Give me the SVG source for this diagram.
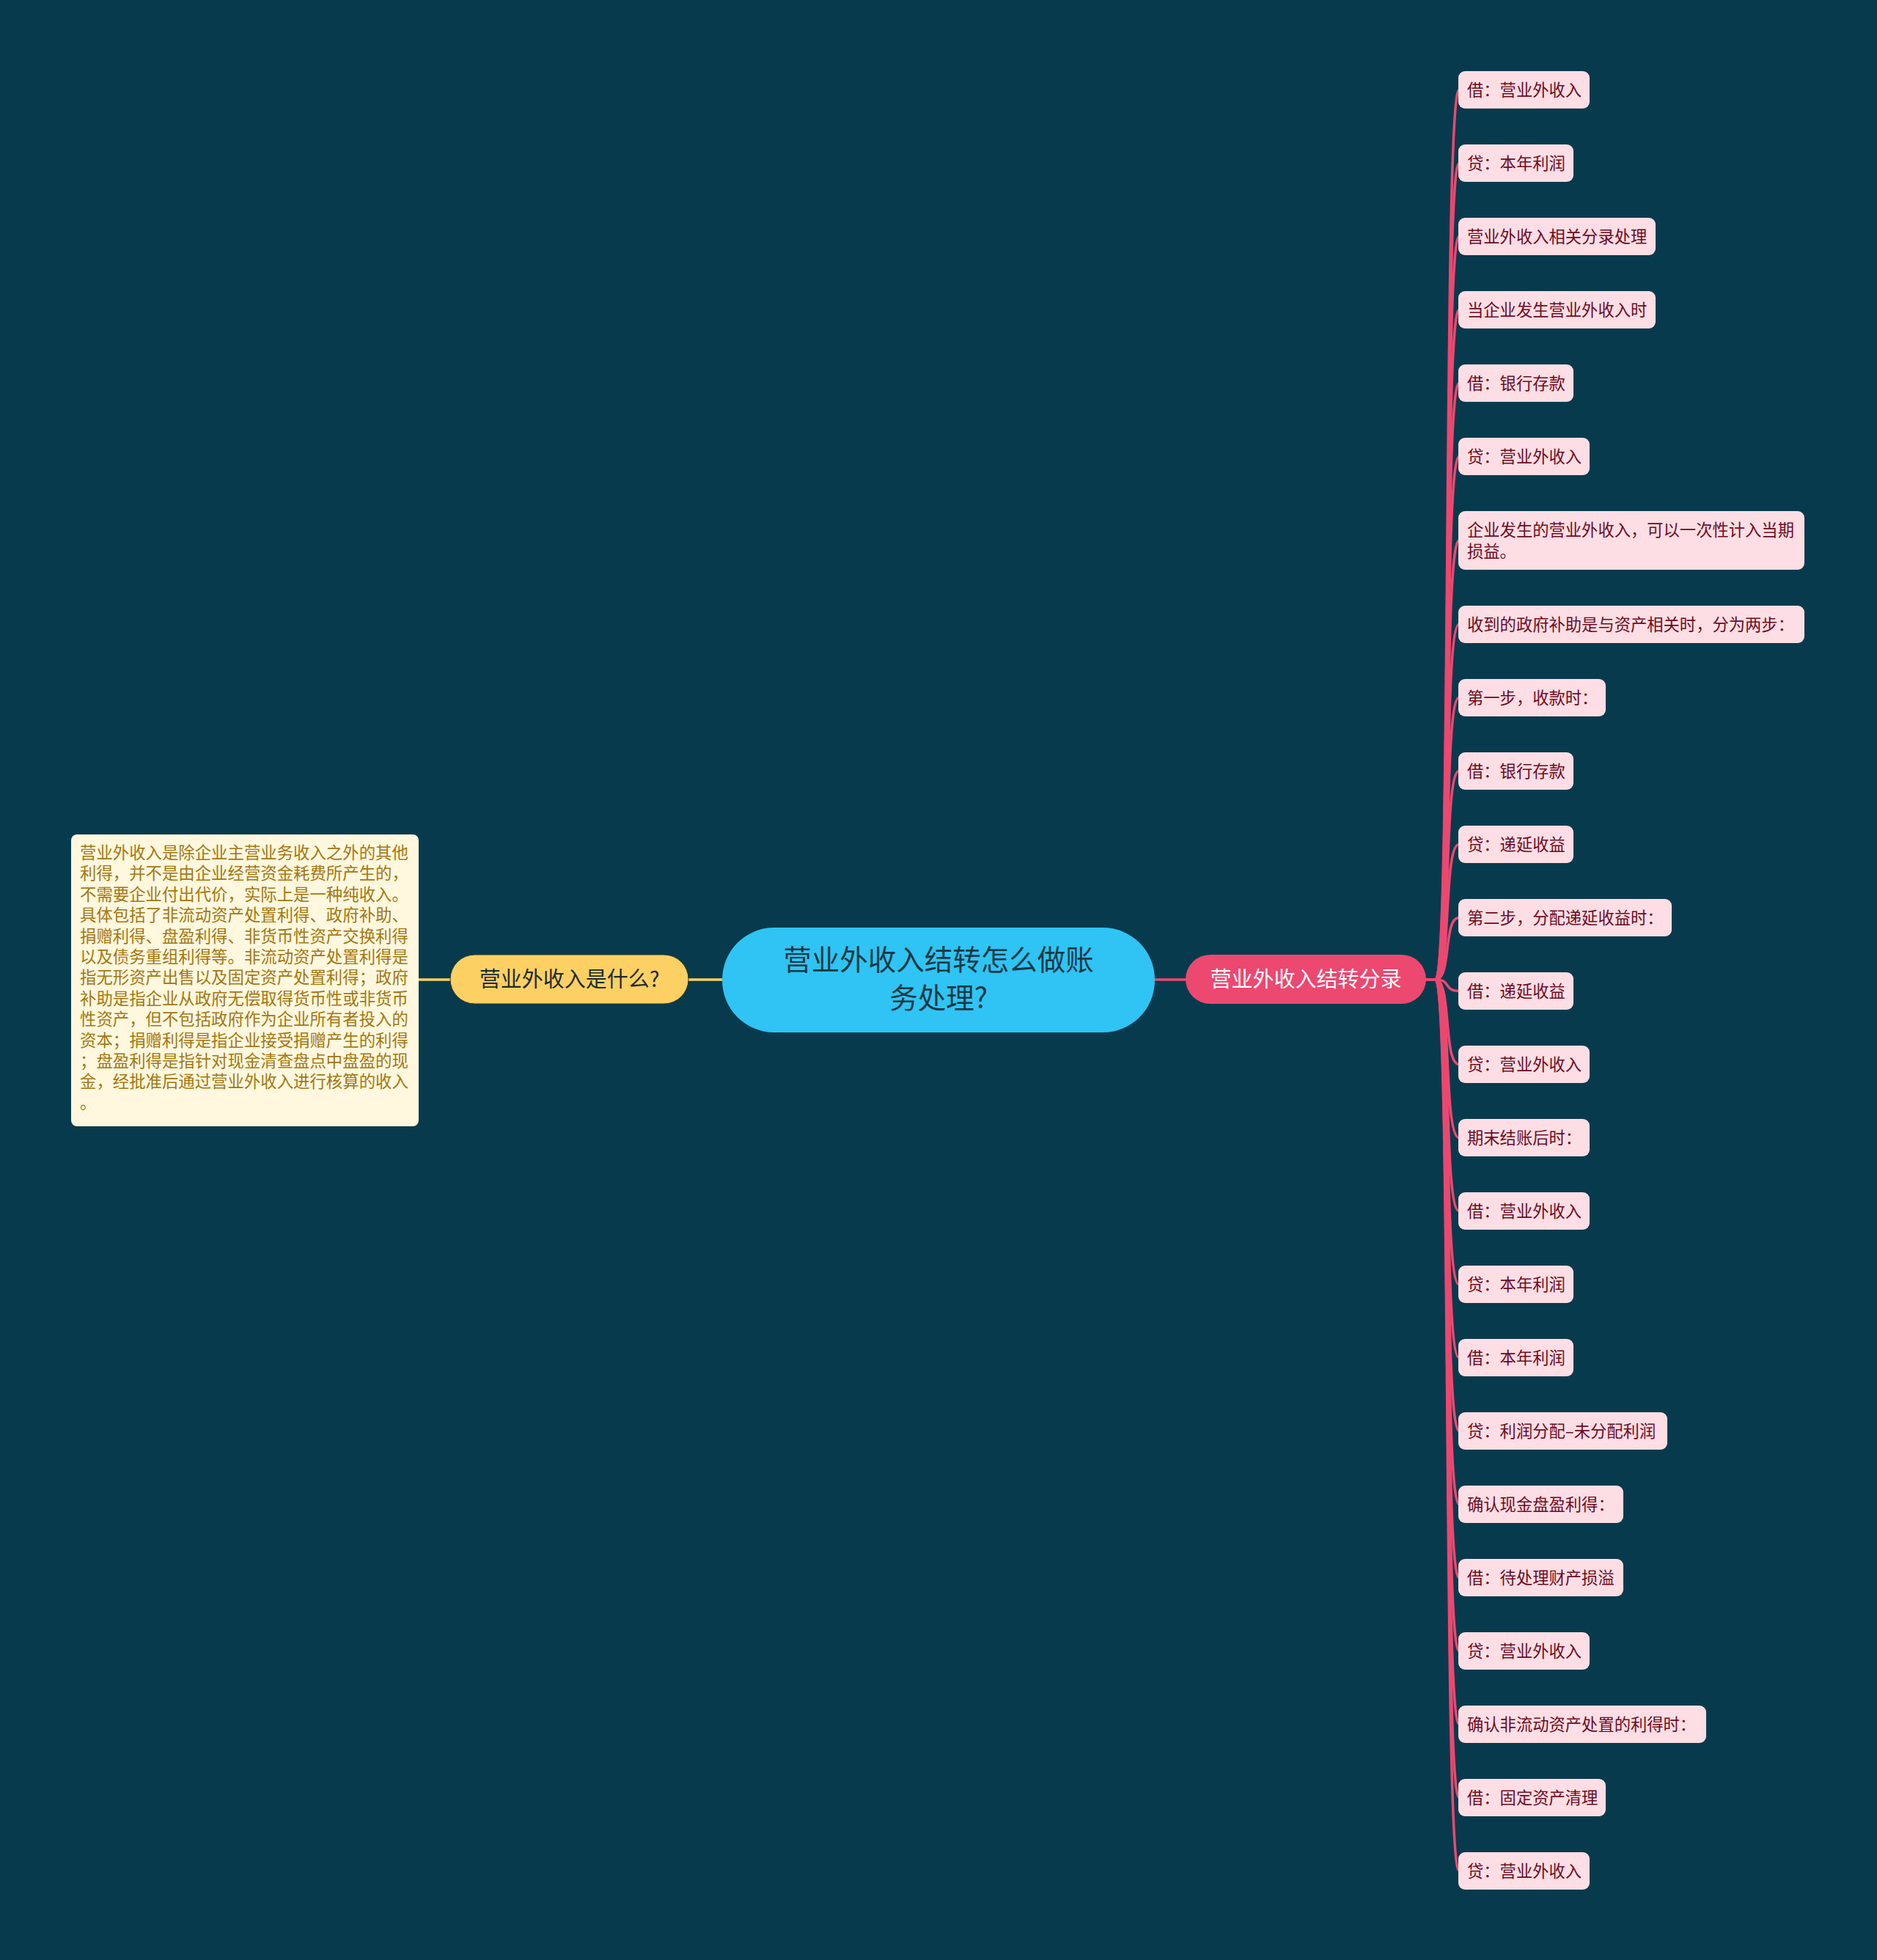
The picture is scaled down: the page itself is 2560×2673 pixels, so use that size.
<svg xmlns="http://www.w3.org/2000/svg" width="2560" height="2673" viewBox="0 0 2560 2673">
<style>
.bg{fill:#083a4d}
.leaf rect{fill:#fddee4}
.leaf text{font-family:"Noto Sans CJK SC","Noto Sans",sans-serif;font-size:22.3px;fill:#6e0a1e}
.lk{fill:none;stroke:#ec4870;stroke-width:3.5;stroke-linecap:round}
.yl{fill:none;stroke:#fcd163;stroke-width:3.5}
.desc text{font-family:"Noto Sans CJK SC","Noto Sans",sans-serif;font-size:22.4px;fill:#a4760e}
</style>
<rect class="bg" x="0" y="0" width="2560" height="2673"/>
<g id="connectors">
<path class="yl" d="M985,1336 H939"/>
<path class="yl" d="M614,1336 H571"/>
<path class="lk" d="M1575,1336 H1617"/>
<path class="lk" d="M1945,1336 H1958 C1980,1336 1968,122.5 1990,122.5"/>
<path class="lk" d="M1945,1336 H1958 C1980,1336 1968,222.5 1990,222.5"/>
<path class="lk" d="M1945,1336 H1958 C1980,1336 1968,322.5 1990,322.5"/>
<path class="lk" d="M1945,1336 H1958 C1980,1336 1968,422.5 1990,422.5"/>
<path class="lk" d="M1945,1336 H1958 C1980,1336 1968,522.5 1990,522.5"/>
<path class="lk" d="M1945,1336 H1958 C1980,1336 1968,622.5 1990,622.5"/>
<path class="lk" d="M1945,1336 H1958 C1980,1336 1968,737 1990,737"/>
<path class="lk" d="M1945,1336 H1958 C1980,1336 1968,851.5 1990,851.5"/>
<path class="lk" d="M1945,1336 H1958 C1980,1336 1968,951.5 1990,951.5"/>
<path class="lk" d="M1945,1336 H1958 C1980,1336 1968,1051.5 1990,1051.5"/>
<path class="lk" d="M1945,1336 H1958 C1980,1336 1968,1151.5 1990,1151.5"/>
<path class="lk" d="M1945,1336 H1958 C1980,1336 1968,1251.5 1990,1251.5"/>
<path class="lk" d="M1945,1336 H1958 C1980,1336 1968,1351.5 1990,1351.5"/>
<path class="lk" d="M1945,1336 H1958 C1980,1336 1968,1451.5 1990,1451.5"/>
<path class="lk" d="M1945,1336 H1958 C1980,1336 1968,1551.5 1990,1551.5"/>
<path class="lk" d="M1945,1336 H1958 C1980,1336 1968,1651.5 1990,1651.5"/>
<path class="lk" d="M1945,1336 H1958 C1980,1336 1968,1751.5 1990,1751.5"/>
<path class="lk" d="M1945,1336 H1958 C1980,1336 1968,1851.5 1990,1851.5"/>
<path class="lk" d="M1945,1336 H1958 C1980,1336 1968,1951.5 1990,1951.5"/>
<path class="lk" d="M1945,1336 H1958 C1980,1336 1968,2051.5 1990,2051.5"/>
<path class="lk" d="M1945,1336 H1958 C1980,1336 1968,2151.5 1990,2151.5"/>
<path class="lk" d="M1945,1336 H1958 C1980,1336 1968,2251.5 1990,2251.5"/>
<path class="lk" d="M1945,1336 H1958 C1980,1336 1968,2351.5 1990,2351.5"/>
<path class="lk" d="M1945,1336 H1958 C1980,1336 1968,2451.5 1990,2451.5"/>
<path class="lk" d="M1945,1336 H1958 C1980,1336 1968,2551.5 1990,2551.5"/>
</g>
<g id="root">
<rect x="985" y="1265" width="590" height="143" rx="71" fill="#2fc4f3"/>
<text x="1280" y="1323" text-anchor="middle" font-family="Noto Sans CJK SC, Noto Sans, sans-serif" font-size="38.5" fill="#163845">营业外收入结转怎么做账</text>
<text x="1280" y="1375" text-anchor="middle" font-family="Noto Sans CJK SC, Noto Sans, sans-serif" font-size="38.5" fill="#163845">务处理?</text>
</g>
<g id="what">
<rect x="614" y="1302" width="325" height="67" rx="33.5" fill="#fdd063" stroke="#2a3a2a" stroke-width="1"/>
<text x="776.5" y="1346" text-anchor="middle" font-family="Noto Sans CJK SC, Noto Sans, sans-serif" font-size="29" fill="#1e2a2e">营业外收入是什么?</text>
</g>
<g id="desc" class="desc">
<rect x="97" y="1138" width="474" height="398" rx="8" fill="#fff8de"/>
<text x="109" y="1171">营业外收入是除企业主营业务收入之外的其他</text>
<text x="109" y="1199.4">利得，并不是由企业经营资金耗费所产生的，</text>
<text x="109" y="1227.8">不需要企业付出代价，实际上是一种纯收入。</text>
<text x="109" y="1256.2">具体包括了非流动资产处置利得、政府补助、</text>
<text x="109" y="1284.6">捐赠利得、盘盈利得、非货币性资产交换利得</text>
<text x="109" y="1313">以及债务重组利得等。非流动资产处置利得是</text>
<text x="109" y="1341.4">指无形资产出售以及固定资产处置利得；政府</text>
<text x="109" y="1369.8">补助是指企业从政府无偿取得货币性或非货币</text>
<text x="109" y="1398.2">性资产，但不包括政府作为企业所有者投入的</text>
<text x="109" y="1426.6">资本；捐赠利得是指企业接受捐赠产生的利得</text>
<text x="109" y="1455">；盘盈利得是指针对现金清查盘点中盘盈的现</text>
<text x="109" y="1483.4">金，经批准后通过营业外收入进行核算的收入</text>
<text x="109" y="1511.8">。</text>
</g>
<g id="entry">
<rect x="1617" y="1302" width="328" height="67" rx="33.5" fill="#ec4870"/>
<text x="1781" y="1346" text-anchor="middle" font-family="Noto Sans CJK SC, Noto Sans, sans-serif" font-size="29" fill="#ffffff">营业外收入结转分录</text>
</g>
<g id="n1" class="leaf"><rect x="1989" y="97" width="179" height="51" rx="9"/><text x="2001" y="130.5">借：营业外收入</text></g>
<g id="n2" class="leaf"><rect x="1989" y="197" width="157" height="51" rx="9"/><text x="2001" y="230.5">贷：本年利润</text></g>
<g id="n3" class="leaf"><rect x="1989" y="297" width="269" height="51" rx="9"/><text x="2001" y="330.5">营业外收入相关分录处理</text></g>
<g id="n4" class="leaf"><rect x="1989" y="397" width="269" height="51" rx="9"/><text x="2001" y="430.5">当企业发生营业外收入时</text></g>
<g id="n5" class="leaf"><rect x="1989" y="497" width="157" height="51" rx="9"/><text x="2001" y="530.5">借：银行存款</text></g>
<g id="n6" class="leaf"><rect x="1989" y="597" width="179" height="51" rx="9"/><text x="2001" y="630.5">贷：营业外收入</text></g>
<g id="n7" class="leaf"><rect x="1989" y="697" width="472" height="80" rx="9"/><text x="2001" y="731">企业发生的营业外收入，可以一次性计入当期</text><text x="2001" y="760">损益。</text></g>
<g id="n8" class="leaf"><rect x="1989" y="826" width="472" height="51" rx="9"/><text x="2001" y="859.5">收到的政府补助是与资产相关时，分为两步：</text></g>
<g id="n9" class="leaf"><rect x="1989" y="926" width="201" height="51" rx="9"/><text x="2001" y="959.5">第一步，收款时：</text></g>
<g id="n10" class="leaf"><rect x="1989" y="1026" width="157" height="51" rx="9"/><text x="2001" y="1059.5">借：银行存款</text></g>
<g id="n11" class="leaf"><rect x="1989" y="1126" width="157" height="51" rx="9"/><text x="2001" y="1159.5">贷：递延收益</text></g>
<g id="n12" class="leaf"><rect x="1989" y="1226" width="291" height="51" rx="9"/><text x="2001" y="1259.5">第二步，分配递延收益时：</text></g>
<g id="n13" class="leaf"><rect x="1989" y="1326" width="157" height="51" rx="9"/><text x="2001" y="1359.5">借：递延收益</text></g>
<g id="n14" class="leaf"><rect x="1989" y="1426" width="179" height="51" rx="9"/><text x="2001" y="1459.5">贷：营业外收入</text></g>
<g id="n15" class="leaf"><rect x="1989" y="1526" width="179" height="51" rx="9"/><text x="2001" y="1559.5">期末结账后时：</text></g>
<g id="n16" class="leaf"><rect x="1989" y="1626" width="179" height="51" rx="9"/><text x="2001" y="1659.5">借：营业外收入</text></g>
<g id="n17" class="leaf"><rect x="1989" y="1726" width="157" height="51" rx="9"/><text x="2001" y="1759.5">贷：本年利润</text></g>
<g id="n18" class="leaf"><rect x="1989" y="1826" width="157" height="51" rx="9"/><text x="2001" y="1859.5">借：本年利润</text></g>
<g id="n19" class="leaf"><rect x="1989" y="1926" width="285" height="51" rx="9"/><text x="2001" y="1959.5">贷：利润分配–未分配利润</text></g>
<g id="n20" class="leaf"><rect x="1989" y="2026" width="225" height="51" rx="9"/><text x="2001" y="2059.5">确认现金盘盈利得：</text></g>
<g id="n21" class="leaf"><rect x="1989" y="2126" width="225" height="51" rx="9"/><text x="2001" y="2159.5">借：待处理财产损溢</text></g>
<g id="n22" class="leaf"><rect x="1989" y="2226" width="179" height="51" rx="9"/><text x="2001" y="2259.5">贷：营业外收入</text></g>
<g id="n23" class="leaf"><rect x="1989" y="2326" width="338" height="51" rx="9"/><text x="2001" y="2359.5">确认非流动资产处置的利得时：</text></g>
<g id="n24" class="leaf"><rect x="1989" y="2426" width="201" height="51" rx="9"/><text x="2001" y="2459.5">借：固定资产清理</text></g>
<g id="n25" class="leaf"><rect x="1989" y="2526" width="179" height="51" rx="9"/><text x="2001" y="2559.5">贷：营业外收入</text></g>
</svg>
